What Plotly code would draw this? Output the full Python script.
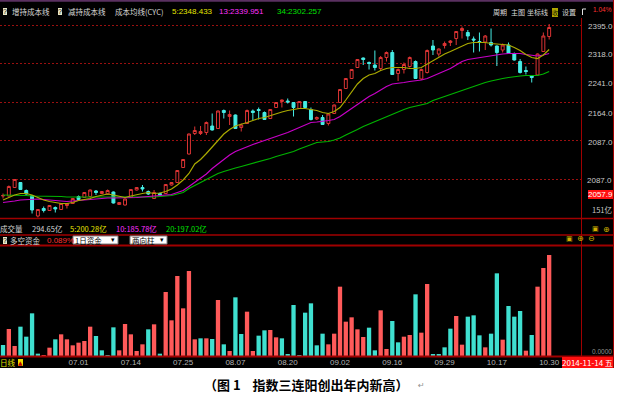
import plotly.graph_objects as go

# ---------------- data ----------------
dates = [
    "2014-06-12", "2014-06-13", "2014-06-16", "2014-06-17", "2014-06-18", "2014-06-19", "2014-06-20",
    "2014-06-23", "2014-06-24", "2014-06-25", "2014-06-26", "2014-06-27", "2014-06-30",
    "2014-07-01", "2014-07-02", "2014-07-03", "2014-07-04", "2014-07-07", "2014-07-08", "2014-07-09",
    "2014-07-10", "2014-07-11", "2014-07-14", "2014-07-15", "2014-07-16", "2014-07-17", "2014-07-18",
    "2014-07-21", "2014-07-22", "2014-07-23", "2014-07-24", "2014-07-25", "2014-07-28", "2014-07-29",
    "2014-07-30", "2014-07-31",
    "2014-08-01", "2014-08-04", "2014-08-05", "2014-08-06", "2014-08-07", "2014-08-08", "2014-08-11",
    "2014-08-12", "2014-08-13", "2014-08-14", "2014-08-15", "2014-08-18", "2014-08-19", "2014-08-20",
    "2014-08-21", "2014-08-22", "2014-08-25", "2014-08-26", "2014-08-27", "2014-08-28", "2014-08-29",
    "2014-09-01", "2014-09-02", "2014-09-03", "2014-09-04", "2014-09-05", "2014-09-09", "2014-09-10",
    "2014-09-11", "2014-09-12", "2014-09-15", "2014-09-16", "2014-09-17", "2014-09-18", "2014-09-19",
    "2014-09-22", "2014-09-23", "2014-09-24", "2014-09-25", "2014-09-26", "2014-09-29", "2014-09-30",
    "2014-10-08", "2014-10-09", "2014-10-10", "2014-10-13", "2014-10-14", "2014-10-15", "2014-10-16",
    "2014-10-17", "2014-10-20", "2014-10-21", "2014-10-22", "2014-10-23", "2014-10-24", "2014-10-27",
    "2014-10-28", "2014-10-29", "2014-10-30",
]

open_ = [2053, 2053, 2070, 2080, 2064, 2054, 2013, 2028, 2024, 2030,
         2026, 2034, 2038, 2052, 2050, 2052, 2063, 2058, 2057, 2061,
         2036, 2035, 2050, 2065, 2070, 2062, 2048, 2058, 2058, 2075,
         2080, 2110, 2137, 2178, 2178, 2180, 2193, 2188, 2224, 2212,
         2215, 2190, 2198, 2223, 2226, 2220, 2208, 2230, 2242, 2243,
         2240, 2228, 2242, 2226, 2207, 2210, 2198, 2218, 2240, 2268,
         2288, 2310, 2329, 2320, 2315, 2308, 2330, 2340, 2298, 2306,
         2312, 2322, 2287, 2300, 2353, 2337, 2354, 2360, 2368, 2384,
         2380, 2367, 2362, 2361, 2360, 2353, 2345, 2355, 2338, 2322,
         2304, 2293, 2295, 2342, 2372]
high = [2058, 2074, 2087, 2081, 2066, 2055, 2027, 2032, 2035, 2032,
        2039, 2039, 2049, 2054, 2061, 2066, 2065, 2063, 2066, 2062,
        2041, 2048, 2067, 2071, 2075, 2064, 2065, 2060, 2077, 2081,
        2105, 2127, 2178, 2192, 2193, 2202, 2218, 2224, 2226, 2224,
        2216, 2198, 2226, 2226, 2230, 2222, 2227, 2241, 2246, 2248,
        2241, 2243, 2243, 2230, 2212, 2215, 2218, 2236, 2267, 2289,
        2307, 2327, 2330, 2322, 2344, 2333, 2342, 2345, 2308, 2320,
        2332, 2324, 2308, 2346, 2365, 2348, 2362, 2365, 2383, 2392,
        2385, 2372, 2380, 2375, 2388, 2354, 2358, 2360, 2340, 2327,
        2312, 2294, 2338, 2380, 2397]
low = [2048, 2052, 2069, 2065, 2056, 2018, 2010, 2020, 2023, 2020,
       2025, 2028, 2037, 2044, 2049, 2050, 2055, 2057, 2056, 2038,
       2035, 2034, 2049, 2064, 2062, 2055, 2047, 2053, 2057, 2074,
       2079, 2109, 2136, 2175, 2175, 2175, 2184, 2187, 2208, 2195,
       2187, 2182, 2197, 2205, 2206, 2205, 2207, 2229, 2230, 2238,
       2212, 2227, 2229, 2204, 2205, 2195, 2194, 2217, 2239, 2267,
       2287, 2309, 2315, 2306, 2304, 2304, 2322, 2295, 2283, 2298,
       2310, 2287, 2285, 2298, 2335, 2332, 2348, 2353, 2355, 2368,
       2365, 2340, 2342, 2345, 2352, 2313, 2340, 2337, 2324, 2298,
       2296, 2280, 2294, 2341, 2366]
close = [2054, 2072, 2086, 2066, 2057, 2025, 2026, 2024, 2034, 2027,
         2038, 2038, 2048, 2046, 2060, 2065, 2060, 2062, 2064, 2039,
         2040, 2047, 2066, 2070, 2067, 2057, 2060, 2055, 2076, 2080,
         2104, 2126, 2177, 2184, 2182, 2200, 2185, 2223, 2220, 2216,
         2188, 2195, 2224, 2220, 2224, 2206, 2226, 2240, 2245, 2241,
         2230, 2242, 2230, 2206, 2210, 2196, 2217, 2235, 2266, 2288,
         2306, 2326, 2326, 2318, 2310, 2330, 2340, 2296, 2306, 2316,
         2330, 2288, 2306, 2344, 2345, 2347, 2358, 2363, 2382, 2388,
         2373, 2365, 2360, 2373, 2355, 2340, 2355, 2338, 2325, 2300,
         2302, 2290, 2337, 2373, 2390]

ma5 = [2045, 2050, 2055, 2058, 2058, 2055, 2050, 2045, 2042, 2040,
       2038, 2038, 2040, 2044, 2046, 2048, 2052, 2054, 2057, 2055,
       2052, 2050, 2053, 2056, 2058, 2060, 2058, 2059, 2062, 2067,
       2075, 2085, 2098, 2117, 2126, 2138, 2150, 2164, 2177, 2186,
       2193, 2196, 2200, 2204, 2208, 2210, 2214, 2217, 2221, 2224,
       2226, 2228, 2228, 2226, 2224, 2220, 2218, 2222, 2230, 2245,
       2262, 2277, 2288, 2295, 2298, 2304, 2308, 2310, 2310, 2310,
       2308, 2308, 2310, 2317, 2324, 2330, 2337, 2342, 2347, 2353,
       2358, 2360, 2360, 2360, 2358, 2357, 2356, 2355, 2350, 2344,
       2336, 2330, 2328, 2335, 2346]
ma13 = [2040, 2041, 2043, 2045, 2046, 2047, 2047, 2046, 2045, 2044,
        2043, 2042, 2043, 2044, 2046, 2047, 2048, 2048, 2049, 2049,
        2049, 2050, 2050, 2050, 2051, 2052, 2052, 2053, 2054, 2056,
        2060, 2064, 2072, 2080, 2088, 2097, 2108, 2117, 2126, 2135,
        2142, 2147, 2152, 2156, 2160, 2164, 2167, 2172, 2175, 2180,
        2185, 2190, 2196, 2200, 2201, 2202, 2204, 2206, 2212, 2220,
        2228, 2237, 2245, 2252, 2258, 2265, 2272, 2277, 2278, 2280,
        2282, 2283, 2285, 2288, 2293, 2298, 2303, 2308, 2315, 2322,
        2326, 2328, 2330, 2332, 2334, 2336, 2337, 2338, 2338, 2338,
        2336, 2334, 2333, 2335, 2338]
ma34 = [2055, 2055, 2055, 2054, 2054, 2053, 2053, 2052, 2052, 2052,
        2052, 2051, 2051, 2051, 2051, 2050, 2050, 2050, 2050, 2050,
        2050, 2050, 2050, 2050, 2050, 2051, 2051, 2052, 2053, 2054,
        2057, 2060, 2068, 2074, 2080, 2086, 2092, 2098, 2102, 2106,
        2109, 2112, 2115, 2118, 2122, 2125, 2128, 2132, 2135, 2138,
        2142, 2147, 2151, 2155, 2160, 2161, 2162, 2165, 2169, 2175,
        2180, 2186, 2192, 2197, 2202, 2206, 2212, 2217, 2222, 2226,
        2230, 2233, 2236, 2238, 2244, 2248, 2252, 2256, 2260, 2265,
        2269, 2273, 2277, 2280, 2283, 2286, 2288, 2290, 2292, 2293,
        2294, 2294, 2294, 2297, 2302]

# 多空资金 two-direction bars: positive = red, negative = cyan
duokong = [-33, 81, 30, -88, -58, -128, -7, 3, 25, -50,
           65, 50, 32, 40, 45, 88, -60, -17, -1, -86,
           17, 96, 65, 15, 35, -80, 95, -7, 192, 107,
           240, 143, 255, 50, -53, 53, -51, 168, -35, 15,
           -176, -66, 133, 15, -61, -77, 78, 56, -53, -5,
           -153, -1, -130, -158, -32, -67, 35, 67, 208, 103,
           116, 80, 57, -85, -17, 137, 21, -105, -41, 58,
           63, -185, 70, 216, -6, -6, -26, -82, 120, 34,
           -118, -122, -62, 26, -67, -248, 49, -150, -118, -135,
           16, -63, 208, 264, 303]

date_ticks = ["2014-07-01", "2014-07-14", "2014-07-25", "2014-08-07", "2014-08-20",
              "2014-09-02", "2014-09-16", "2014-09-29", "2014-10-17", "2014-10-30"]
date_tick_labels = ["07.01", "07.14", "07.25", "08.07", "08.20",
                    "09.02", "09.16", "09.29", "10.17", "10.30"]
price_grid = [2395, 2318, 2241, 2164, 2087]
price_tick_labels = ["2395.0", "2318.0", "2241.0", "2164.0", "2087.0"]

# ---------------- style ----------------
W, H = 618, 406
RED = "#dc3434"
CYAN = "#46ece4"
BAR_RED = "#ff5a5a"
BAR_CYAN = "#3fe0d0"
GRID = "#9a1010"
FRAME = "#a00000"
CJK = "Noto Sans CJK SC"
NUM = "Liberation Sans"


def px(x):
    return x / W


def py(y):
    return 1 - y / H


fig = go.Figure()

fig.add_trace(go.Candlestick(
    x=dates, open=open_, high=high, low=low, close=close,
    increasing=dict(line=dict(color=RED, width=1), fillcolor="#000000"),
    decreasing=dict(line=dict(color=CYAN, width=1), fillcolor=CYAN),
    whiskerwidth=0, showlegend=False, hoverinfo="skip", xaxis="x", yaxis="y"))

for series, col in ((ma34, "#00b400"), (ma13, "#c800c8"), (ma5, "#aaaa00")):
    fig.add_trace(go.Scatter(x=dates, y=series, mode="lines",
                             line=dict(color=col, width=1.2),
                             showlegend=False, hoverinfo="skip", xaxis="x", yaxis="y"))

fig.add_trace(go.Bar(
    x=dates, y=[abs(v) for v in duokong],
    marker=dict(color=[BAR_RED if v > 0 else BAR_CYAN for v in duokong], line=dict(width=0)),
    showlegend=False, hoverinfo="skip", xaxis="x2", yaxis="y2"))

x_dom = [0, px(581)]
x_rng = [-0.52, 99.48]

# label positions on the price axis as drawn in the reference (shifted from the gridlines)
label_pos = [2393, 2337, 2279, 2219, 2161]

fig.update_layout(
    width=W, height=H,
    margin=dict(l=0, r=0, t=0, b=0),
    paper_bgcolor="#ffffff", plot_bgcolor="rgba(0,0,0,0)",
    bargap=0.26, boxgap=0.28,
    xaxis=dict(domain=x_dom, range=x_rng, type="category", anchor="y",
               showticklabels=False, showgrid=False, zeroline=False, showline=False,
               rangeslider=dict(visible=False), fixedrange=True),
    yaxis=dict(domain=[py(218), py(18)], range=[2009, 2409], side="right", anchor="x",
               tickvals=label_pos, ticktext=price_tick_labels,
               tickfont=dict(family=NUM, size=8, color="#c8c8c8"),
               ticks="", ticklabelstandoff=6,
               showgrid=False, zeroline=False, showline=False,
               minor=dict(tickvals=price_grid, showgrid=True, gridcolor=GRID,
                          griddash="2px,2px", gridwidth=1)),
    xaxis2=dict(domain=x_dom, range=x_rng, type="category", anchor="y2", matches="x",
                tickvals=date_ticks, ticktext=date_tick_labels,
                tickfont=dict(family=NUM, size=8, color="#b4b4b4"),
                ticks="", showgrid=False, zeroline=False, showline=False),
    yaxis2=dict(domain=[py(356), py(246)], range=[0, 330], side="right", anchor="x2",
                showticklabels=False, showgrid=False, zeroline=False, showline=False),
)

shapes = []
# black terminal background
shapes.append(dict(type="rect", xref="paper", yref="paper", x0=0, x1=px(614), y0=py(368), y1=py(0),
                   fillcolor="#000000", line=dict(width=0), layer="below"))


def hline(y, x0=0, x1=614, color=FRAME, w=1):
    shapes.append(dict(type="line", xref="paper", yref="paper", x0=px(x0), x1=px(x1),
                       y0=py(y), y1=py(y), line=dict(color=color, width=w)))


def vline(x, y0, y1, color=FRAME, w=1):
    shapes.append(dict(type="line", xref="paper", yref="paper", x0=px(x), x1=px(x),
                       y0=py(y0), y1=py(y1), line=dict(color=color, width=w)))


hline(0.8, color="#5a3060", w=2)
hline(218.5, w=1.5)
hline(235, w=1.5)
hline(245.5, w=2)
hline(356.5, w=2)
vline(581.5, 18, 357)
vline(613.5, 0, 368)
# small bracket in header
vline(582.5, 9, 15, color="#e0e0e0")
hline(9, 582.5, 586, color="#e0e0e0")

# dropdown boxes
for x0, x1 in ((73, 118), (130, 167)):
    shapes.append(dict(type="rect", xref="paper", yref="paper", x0=px(x0), x1=px(x1),
                       y0=py(244), y1=py(236), fillcolor="#ffffff",
                       line=dict(color="#808080", width=1)))
fig.update_layout(shapes=shapes)


def T(x, y, text, color="#d0d0d0", size=7.5, anchor="left", family=CJK, bg=None, bold=False):
    if bold:
        text = "<b>" + text + "</b>"
    fig.add_annotation(x=px(x), y=py(y), xref="paper", yref="paper", text=text,
                       showarrow=False, xanchor=anchor, yanchor="middle",
                       font=dict(family=family, size=size, color=color),
                       bgcolor=bg, borderpad=0, borderwidth=0)


# header row
T(3, 11.5, "?", "#000000", 7, family=NUM, bg="#e8e8c8")
T(12, 11.5, "增持成本线", "#d8d8d8")
T(58, 11.5, "?", "#000000", 7, family=NUM, bg="#e8e8c8")
T(68, 11.5, "减持成本线", "#d8d8d8")
T(115, 11.5, "成本均线(CYC)", "#d8d8d8")
T(172, 11.5, "5:2348.433", "#e6e600", 8, family=NUM)
T(219, 11.5, "13:2339.951", "#ff30ff", 8, family=NUM)
T(277, 11.5, "34:2302.257", "#00e000", 8, family=NUM)
T(493, 12.5, "周期", "#d8d8d8", 7)
T(511, 12.5, "主图", "#d8d8d8", 7)
T(527, 12.5, "坐标线", "#d8d8d8", 7)
T(552, 12.5, "收", "#202000", 6, bg="#b0a800")
T(562, 12.5, "设置", "#d8d8d8", 7)
T(612, 10, "1.04%", "#ff3030", 6.5, anchor="right", family=NUM)

# right axis extras
T(612, 180, "2087.0", "#c8c8c8", 8, anchor="right", family=NUM)
T(613, 194, "2057.9", "#ffffff", 8, anchor="right", family=NUM, bg="#ff1010")
T(612, 209, "151亿", "#c8c8c8", 7.5, anchor="right")
T(592, 229, "▣", "#d0b000", 7, family="DejaVu Sans")
T(603, 229, "⊕", "#d0b000", 8, family="DejaVu Sans")

# volume header row
T(0, 228.5, "成交量", "#d8d8d8")
T(32, 228.5, "294.65亿", "#d8d8d8")
T(70, 228.5, "5:200.28亿", "#e6e600")
T(116, 228.5, "10:185.78亿", "#ff30ff")
T(166, 228.5, "20:197.02亿", "#00e000")

# 多空资金 row
T(3, 240, "?", "#000000", 7, family=NUM, bg="#e8e8c8")
T(10, 240, "多空资金", "#d8d8d8")
T(47, 240, "0.089%", "#ff3030", 8, family=NUM)
T(75, 240, "1日资金", "#000000")
T(111, 240, "▾", "#000000", 7, family="DejaVu Sans")
T(132, 240, "两向柱", "#000000")
T(160, 240, "▾", "#000000", 7, family="DejaVu Sans")
T(566, 238.5, "▣", "#d0b000", 7, family="DejaVu Sans")
T(577, 238.5, "⊕", "#d0b000", 8, family="DejaVu Sans")
T(588, 238.5, "⊖", "#d0b000", 8, family="DejaVu Sans")

# bottom panel zero label
T(612, 351.5, "0.0000", "#909090", 6.5, anchor="right", family=NUM)

# date row
T(0, 362, "日线", "#e0e000")
T(18, 362, "▲", "#c00000", 6, family="DejaVu Sans", bg="#f0e000")
T(613, 362, "2014-11-14 五", "#ffffff", 8, anchor="right", bg="#ff1010")

# caption
T(306, 384, "（图 1    指数三连阳创出年内新高）", "#000000", 13, anchor="center", bold=True)
T(418, 385, "↵", "#909090", 8, family="DejaVu Sans")

fig.write_html("out.html", config={"displayModeBar": False},
               post_script="document.body.style.margin='0';document.body.style.padding='0';")
